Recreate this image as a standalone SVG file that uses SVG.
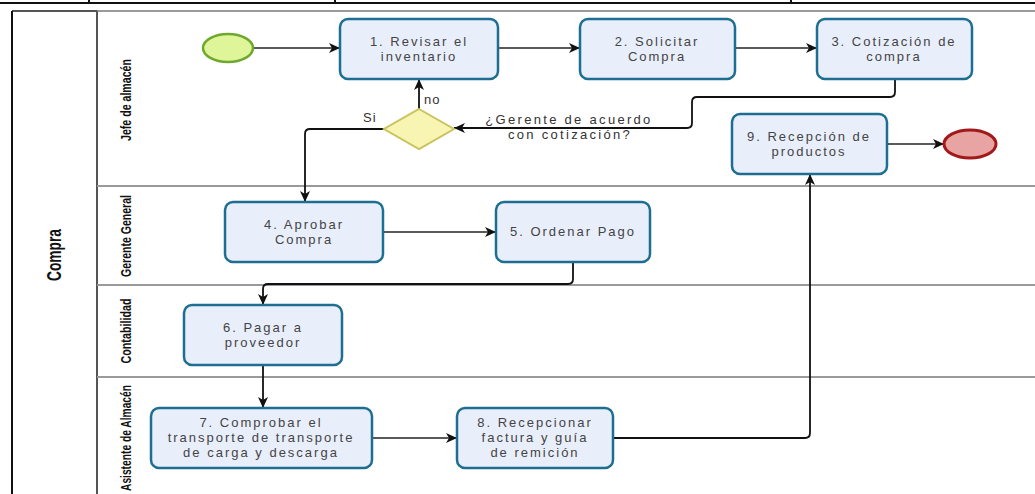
<svg xmlns="http://www.w3.org/2000/svg" width="1035" height="494" viewBox="0 0 1035 494">
<style>
.task{fill:#e9eefb;stroke:#1d6e91;stroke-width:2.5}
.tt{font-family:"Liberation Sans",Arial,sans-serif;font-size:13px;fill:#444;text-anchor:middle;letter-spacing:2px}
.lane{font-family:"Liberation Sans",Arial,sans-serif;font-weight:bold;font-size:15px;fill:#111;text-anchor:middle}
.cg{fill:none;stroke:#5a5a5a;stroke-width:1.8}
.cb{fill:none;stroke:#111;stroke-width:1.8}
.lbl{font-family:"Liberation Sans",Arial,sans-serif;font-size:13px;fill:#333;letter-spacing:2.3px}
</style>
<defs>
<marker id="ah" markerWidth="12" markerHeight="10" refX="11" refY="5" orient="auto" markerUnits="userSpaceOnUse">
<path d="M0,0 L11,5 L0,10 L3,5 z" fill="#111"/>
</marker>
</defs>
<rect x="0" y="0" width="1035" height="494" fill="#fff"/>
<g id="header">
<line x1="0" y1="3" x2="1035" y2="3" stroke="#111" stroke-width="2"/>
<line x1="89" y1="0" x2="89" y2="3" stroke="#111" stroke-width="2"/>
<line x1="335" y1="0" x2="335" y2="3" stroke="#111" stroke-width="2"/>
<line x1="791" y1="0" x2="791" y2="3" stroke="#111" stroke-width="2"/>
</g>
<g id="pool">
<line x1="12" y1="11" x2="1035" y2="11" stroke="#9a9a9a" stroke-width="2"/>
<line x1="12" y1="11" x2="97" y2="11" stroke="#555" stroke-width="2"/>
<line x1="12" y1="11" x2="12" y2="494" stroke="#111" stroke-width="2"/>
<line x1="97" y1="11" x2="97" y2="494" stroke="#555" stroke-width="2"/>
<line x1="97" y1="186" x2="1035" y2="186" stroke="#9a9a9a" stroke-width="2"/>
<line x1="97" y1="285" x2="1035" y2="285" stroke="#9a9a9a" stroke-width="2"/>
<line x1="97" y1="377" x2="1035" y2="377" stroke="#9a9a9a" stroke-width="2"/>
<text class="lane" style="font-size:20px" transform="translate(61,255) rotate(-90)" textLength="52" lengthAdjust="spacingAndGlyphs">Compra</text>
<text class="lane" transform="translate(131,100) rotate(-90)" textLength="82" lengthAdjust="spacingAndGlyphs">Jefe de almacén</text>
<text class="lane" transform="translate(131,236) rotate(-90)" textLength="82" lengthAdjust="spacingAndGlyphs">Gerente General</text>
<text class="lane" transform="translate(131,331) rotate(-90)" textLength="65" lengthAdjust="spacingAndGlyphs">Contabilidad</text>
<text class="lane" transform="translate(131,438) rotate(-90)" textLength="106" lengthAdjust="spacingAndGlyphs">Asistente de Almacén</text>
</g>
<g id="connectors">
<path class="cg" d="M254,48 H340" marker-end="url(#ah)"/>
<path class="cg" d="M498,48 H580" marker-end="url(#ah)"/>
<path class="cg" d="M735,48 H817" marker-end="url(#ah)"/>
<path class="cb" d="M895,79 V92 Q895,97 890,97 H697 Q692,97 692,102 V123 Q692,128 687,128 H454" marker-end="url(#ah)"/>
<path class="cb" d="M419,109 V79" marker-end="url(#ah)"/>
<path class="cb" d="M384,129 H310 Q305,129 305,134 V202" marker-end="url(#ah)"/>
<path class="cg" d="M383,232 H496" marker-end="url(#ah)"/>
<path class="cb" d="M573,262 V279 Q573,284 568,284 H268 Q263,284 263,289 V305" marker-end="url(#ah)"/>
<path class="cb" d="M263,365 V408" marker-end="url(#ah)"/>
<path class="cg" d="M372,438 H457" marker-end="url(#ah)"/>
<path class="cb" d="M613,438 H805 Q810,438 810,433 V174" marker-end="url(#ah)"/>
<path class="cg" d="M887,144 H944" marker-end="url(#ah)"/>
<text class="lbl" x="424" y="104" style="letter-spacing:1px">no</text>
<text class="lbl" x="363" y="122" style="letter-spacing:1px">Si</text>
<text class="lbl" text-anchor="middle"><tspan x="569" y="124">¿Gerente de acuerdo</tspan><tspan x="570" y="139">con cotización?</tspan></text>
</g>
<g id="start"><ellipse cx="228" cy="48" rx="25" ry="14" fill="#dff59a" stroke="#6ea82c" stroke-width="2.5"/></g>
<g id="end"><ellipse cx="970" cy="144" rx="26" ry="14" fill="#e8a3a3" stroke="#a11919" stroke-width="3"/></g>
<g id="gateway"><polygon points="419,109 454,129 419,149 384,129" fill="#f8f5b2" stroke="#c9c45e" stroke-width="2"/></g>
<g id="n1"><rect class="task" x="340" y="19" width="158" height="60" rx="8"/><text class="tt"><tspan x="419" y="46">1. Revisar el</tspan><tspan x="419" y="60.6">inventario</tspan></text></g>
<g id="n2"><rect class="task" x="580" y="19" width="155" height="60" rx="8"/><text class="tt"><tspan x="657" y="46">2. Solicitar</tspan><tspan x="657" y="60.6">Compra</tspan></text></g>
<g id="n3"><rect class="task" x="817" y="19" width="155" height="60" rx="8"/><text class="tt"><tspan x="894" y="46">3. Cotización de</tspan><tspan x="894" y="60.6">compra</tspan></text></g>
<g id="n9"><rect class="task" x="732" y="114" width="155" height="60" rx="8"/><text class="tt"><tspan x="809" y="141">9. Recepción de</tspan><tspan x="809" y="155.6">productos</tspan></text></g>
<g id="n4"><rect class="task" x="225" y="202" width="158" height="60" rx="8"/><text class="tt"><tspan x="304" y="229">4. Aprobar</tspan><tspan x="304" y="243.6">Compra</tspan></text></g>
<g id="n5"><rect class="task" x="496" y="202" width="154" height="60" rx="8"/><text class="tt" x="573" y="236">5. Ordenar Pago</text></g>
<g id="n6"><rect class="task" x="184" y="305" width="158" height="60" rx="8"/><text class="tt"><tspan x="263" y="332">6. Pagar a</tspan><tspan x="263" y="346.6">proveedor</tspan></text></g>
<g id="n7"><rect class="task" x="151" y="408" width="221" height="60" rx="8"/><text class="tt"><tspan x="261" y="427.4">7. Comprobar el</tspan><tspan x="261" y="442">transporte de transporte</tspan><tspan x="261" y="456.6">de carga y descarga</tspan></text></g>
<g id="n8"><rect class="task" x="457" y="408" width="156" height="60" rx="8"/><text class="tt"><tspan x="535" y="427.4">8. Recepcionar</tspan><tspan x="535" y="442">factura y guía</tspan><tspan x="535" y="456.6">de remición</tspan></text></g>
</svg>
